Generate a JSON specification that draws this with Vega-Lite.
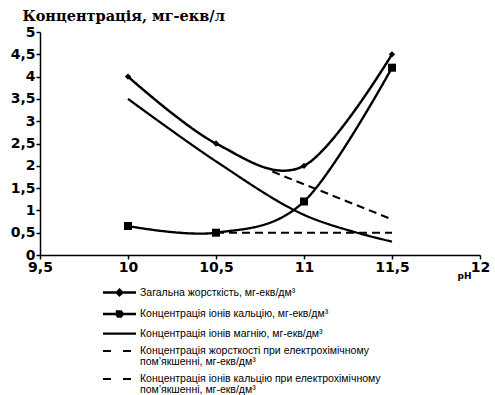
{
  "$schema": "https://vega.github.io/schema/vega-lite/v6.json",
  "width": 440,
  "height": 223,
  "autosize": {"type": "none"},
  "padding": {"left": 40, "top": 32, "right": 15, "bottom": 140},
  "background": "white",
  "config": {"view": {"stroke": null}},
  "data": {
    "values": [
      {"s": "A", "x": 10, "y": 4, "m": true},
      {"s": "A", "x": 10.5, "y": 2.5, "m": true},
      {"s": "A", "x": 11, "y": 2, "m": true},
      {"s": "A", "x": 11.5, "y": 4.5, "m": true},
      {"s": "B", "x": 10, "y": 0.65, "m": true},
      {"s": "B", "x": 10.5, "y": 0.5, "m": true},
      {"s": "B", "x": 11, "y": 1.2, "m": true},
      {"s": "B", "x": 11.5, "y": 4.2, "m": true},
      {"s": "C", "x": 10, "y": 3.5, "m": false},
      {"s": "C", "x": 10.5, "y": 2.1, "m": false},
      {"s": "C", "x": 11, "y": 0.9, "m": false},
      {"s": "C", "x": 11.5, "y": 0.3, "m": false},
      {"s": "D", "x": 10.82, "y": 1.87, "m": false},
      {"s": "D", "x": 11.5, "y": 0.8, "m": false},
      {"s": "E", "x": 10.5, "y": 0.5, "m": false},
      {"s": "E", "x": 11.5, "y": 0.5, "m": false}
    ]
  },
  "encoding": {
    "x": {
      "field": "x", "type": "quantitative",
      "scale": {"domain": [9.5, 12], "nice": false, "zero": false},
      "axis": {
        "values": [9.5, 10, 10.5, 11, 11.5, 12],
        "format": "~g",
        "labelExpr": "replace(datum.label, '.', ',')",
        "grid": false,
        "domainColor": "black", "domainWidth": 1.5,
        "tickColor": "black", "tickSize": 4, "tickWidth": 1.5,
        "labelFont": "DejaVu Sans", "labelFontSize": 14, "labelFontWeight": "bold", "labelColor": "black",
        "labelPadding": 1, "labelFlush": false,
        "title": "pH",
        "titleFont": "DejaVu Sans", "titleFontSize": 9, "titleFontWeight": "bold", "titleColor": "black",
        "titleAlign": "left", "titleBaseline": "alphabetic", "titleAnchor": "start",
        "titleX": 417, "titleY": 23
      }
    },
    "y": {
      "field": "y", "type": "quantitative",
      "scale": {"domain": [0, 5], "nice": false},
      "axis": {
        "values": [0, 0.5, 1, 1.5, 2, 2.5, 3, 3.5, 4, 4.5, 5],
        "format": "~g",
        "labelExpr": "replace(datum.label, '.', ',')",
        "grid": false,
        "domainColor": "black", "domainWidth": 1.5,
        "tickColor": "black", "tickSize": 4, "tickWidth": 1.5,
        "labelFont": "DejaVu Sans", "labelFontSize": 14, "labelFontWeight": "bold", "labelColor": "black",
        "labelPadding": 1, "labelFlush": false,
        "title": "Концентрація, мг-екв/л",
        "titleFont": "DejaVu Serif", "titleFontSize": 14.5, "titleFontWeight": "bold", "titleColor": "black",
        "titleAngle": 0, "titleAlign": "left", "titleBaseline": "alphabetic",
        "titleX": -18, "titleY": -12
      }
    }
  },
  "layer": [
    {
      "mark": {"type": "line", "interpolate": "cardinal", "tension": 0},
      "encoding": {
        "stroke": {
          "field": "s", "type": "nominal",
          "scale": {"domain": ["A", "B", "C", "D", "E"], "range": ["black", "black", "black", "black", "black"]},
          "legend": {
            "title": null,
            "orient": "none",
            "legendX": 63,
            "legendY": 254,
            "direction": "vertical",
            "symbolSize": 100,
            "labelFont": "Liberation Sans",
            "labelFontSize": 10.5,
            "labelColor": "black",
            "labelOffset": 24,
            "labelLimit": 400,
            "rowPadding": 5.5,
            "labelExpr": "datum.value == 'A' ? 'Загальна жорсткість, мг-екв/дм³' : datum.value == 'B' ? 'Концентрація іонів кальцію, мг-екв/дм³' : datum.value == 'C' ? 'Концентрація іонів магнію, мг-екв/дм³' : datum.value == 'D' ? ['Концентрація жорсткості при електрохімічному', 'пом’якшенні, мг-екв/дм³'] : ['Концентрація іонів кальцію при електрохімічному', 'пом’якшенні, мг-екв/дм³']",
            "encode": {
              "labels": {
                "update": {
                  "lineHeight": {"value": 10.5}
                }
              },
              "symbols": {
                "update": {
                  "x": {"value": 16.5},
                  "shape": {"signal": "datum.value == 'A' ? 'M-3.3,0H3.3M0,-0.55L0.55,0L0,0.55L-0.55,0Z' : datum.value == 'B' ? 'M-3.3,0H3.3M-0.5,-0.5H0.5V0.5H-0.5Z' : datum.value == 'C' ? 'M-3.3,0H3.3' : 'M-3.3,0H-0.9M0.7,0H3.3'"},
                  "stroke": {"signal": "datum.value == 'E' ? '#888888' : 'black'"},
                  "fill": {"signal": "datum.value == 'E' ? '#888888' : 'black'"},
                  "strokeWidth": {"signal": "datum.value == 'D' || datum.value == 'E' ? 2.5 : 2"},
                  "strokeDash": {"value": [1, 0]},
                  "size": {"value": 100},
                  "opacity": {"value": 1}
                }
              }
            }
          }
        },
        "strokeDash": {
          "field": "s", "type": "nominal",
          "scale": {"domain": ["A", "B", "C", "D", "E"], "range": [[1, 0], [1, 0], [1, 0], [8, 5], [8, 5]]},
          "legend": null
        },
        "strokeWidth": {
          "field": "s", "type": "nominal",
          "scale": {"domain": ["A", "B", "C", "D", "E"], "range": [2.5, 2, 1.5, 1.5, 1.5]},
          "legend": null
        }
      }
    },
    {
      "transform": [{"filter": "datum.m"}],
      "mark": {"type": "point", "filled": true, "color": "black", "opacity": 1},
      "encoding": {
        "shape": {
          "field": "s", "type": "nominal",
          "scale": {"domain": ["A", "B"], "range": ["diamond", "square"]},
          "legend": null
        },
        "size": {
          "field": "s", "type": "nominal",
          "scale": {"domain": ["A", "B"], "range": [40, 64]},
          "legend": null
        }
      }
    }
  ]
}
